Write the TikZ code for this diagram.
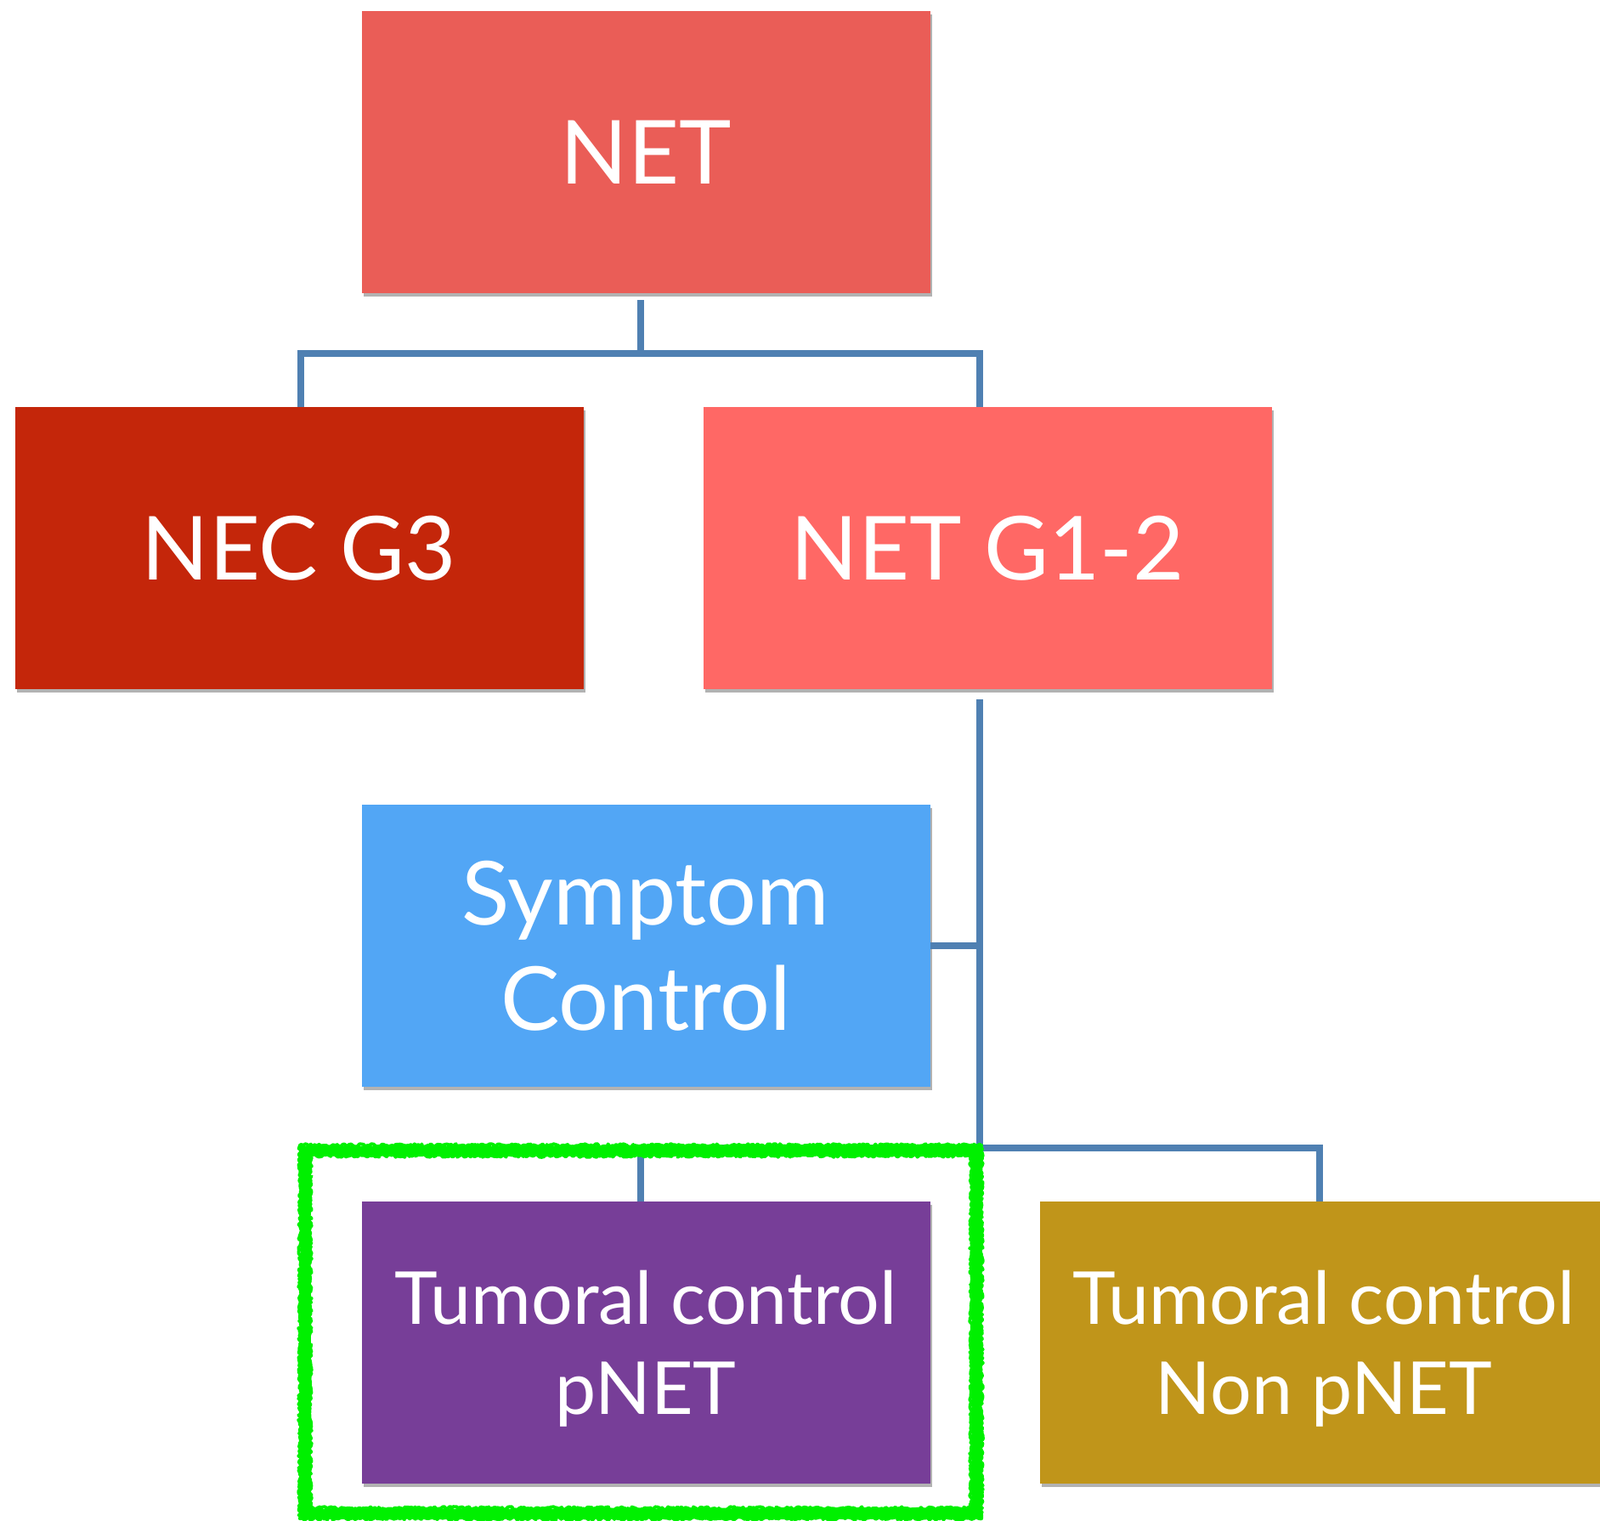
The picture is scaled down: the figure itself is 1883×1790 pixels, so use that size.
\documentclass[tikz,border=0pt]{standalone}
\usepackage{fontspec}
\setmainfont{Lato}
\usetikzlibrary{shadows,decorations.pathmorphing}
\definecolor{cnet}{HTML}{EA5D57}
\definecolor{cnec}{HTML}{C4260A}
\definecolor{cg12}{HTML}{FF6865}
\definecolor{csym}{HTML}{52A6F5}
\definecolor{cpnet}{HTML}{773E98}
\definecolor{cnon}{HTML}{C0951A}
\definecolor{cconn}{HTML}{4F80B2}
\definecolor{cgreen}{HTML}{00F000}
\begin{document}
\begin{tikzpicture}[x=1pt,y=-1pt,
  box/.style={rectangle, minimum width=669pt, minimum height=332pt, inner sep=0pt,
    text=white, align=center,
    drop shadow={shadow xshift=2pt, shadow yshift=-4pt, opacity=0.3, fill=black}},
  big/.style={font=\fontsize{104}{124}\selectfont},
  mid/.style={font=\fontsize{86}{106}\selectfont},
  midtext/.style={label={[mid, text=white, align=center, yshift=-7pt]center:#1}},
  conn/.style={draw=cconn, line width=8pt},
  fuzz/.style={cgreen, line width=4pt, line cap=round, line join=round, decorate,
    decoration={random steps, segment length=2pt, amplitude=1.8pt}}]
\useasboundingbox (0,0) rectangle (1883,1790);
\fill[white] (0,0) rectangle (1883,1790);
\node[box, big, fill=cnet] (net) at (760,179) {NET};
\node[box, big, fill=cnec] (nec) at (352,645) {NEC G3};
\node[box, big, fill=cg12] (g12) at (1162,645) {NET G1-2};
\node[box, big, fill=csym] (sym) at (760,1113) {Symptom\\Control};
\node[box, fill=cpnet, midtext={Tumoral control\\pNET}] (pnet) at (760,1580) {};
\node[box, fill=cnon, midtext={Tumoral control\\Non pNET}] (non) at (1558,1580) {};
\coordinate (j1) at (754,416);
\coordinate (j2) at (1153,1351);
\draw[conn] ([xshift=-6pt,yshift=-8pt]net.south) -- (j1);
\draw[conn] ([xshift=2pt]nec.north) |- ([xshift=-9pt]g12.north |- j1) -- ([xshift=-9pt]g12.north);
\draw[conn] ([xshift=-9pt,yshift=-12pt]g12.south) -- (j2);
\draw[conn] (sym.east) -- (sym.east -| j2);
\draw[conn] ([xshift=-6pt]pnet.north) |- (j2) -| ([xshift=-5pt]non.north);
% green highlight frame
\draw[cgreen, line width=11pt] (359,1354) rectangle (1149,1781);
\draw[fuzz] (353,1348) -- (1155,1348);
\draw[fuzz] (365,1360) -- (1143,1360);
\draw[fuzz] (353,1787) -- (1155,1787);
\draw[fuzz] (365,1775) -- (1143,1775);
\draw[fuzz] (353,1348) -- (353,1787);
\draw[fuzz] (365,1360) -- (365,1775);
\draw[fuzz] (1155,1348) -- (1155,1787);
\draw[fuzz] (1143,1360) -- (1143,1775);
\end{tikzpicture}
\end{document}
